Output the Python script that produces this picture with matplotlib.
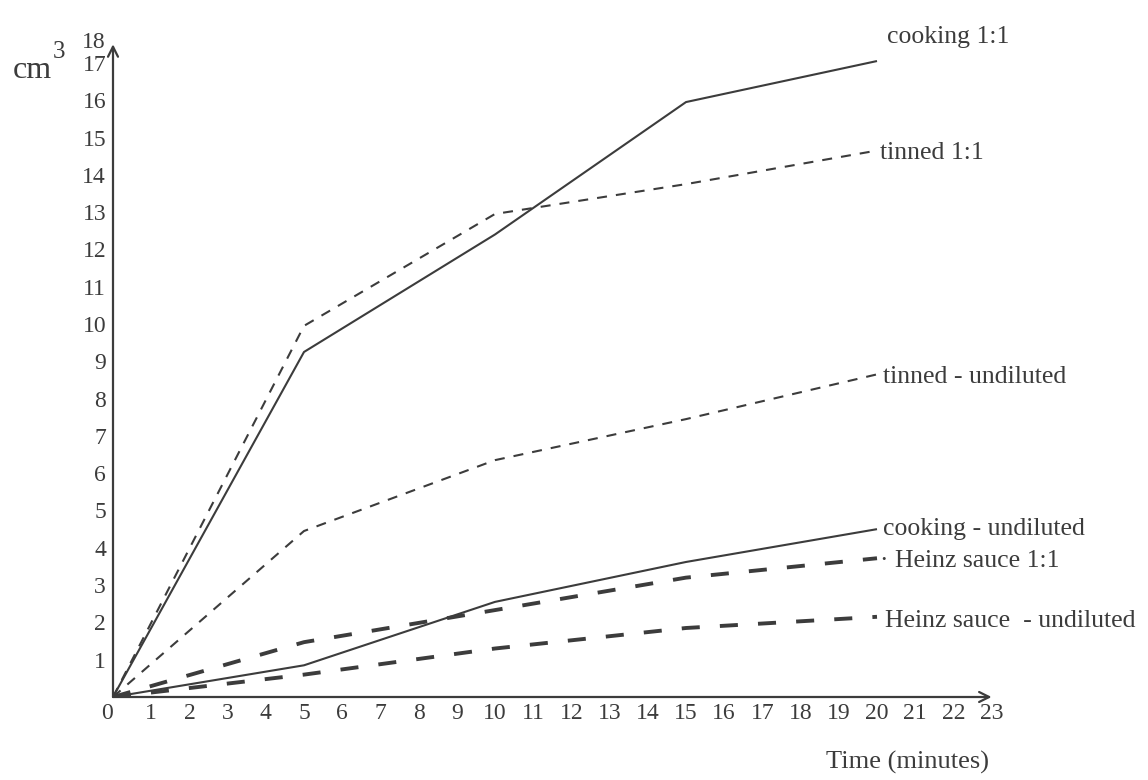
import matplotlib
matplotlib.use('Agg')
import matplotlib.pyplot as plt

# Время (мин) и объём (см3) для каждой пробы
minutes = [0, 5, 10, 15, 20]

cooking_1to1 = [0, 9.25, 12.4, 15.95, 17.05]
tinned_1to1 = [0, 9.95, 12.95, 13.75, 14.65]
tinned_undiluted = [0, 4.45, 6.35, 7.45, 8.65]
cooking_undiluted = [0, 0.85, 2.55, 3.62, 4.5]
heinz_1to1 = [0, 1.47, 2.33, 3.2, 3.72]
heinz_undiluted = [0, 0.6, 1.3, 1.85, 2.15]

series_names = ['cooking 1:1', 'tinned 1:1', 'tinned - undiluted',
                'cooking - undiluted', '\u00b7 Heinz sauce 1:1', 'Heinz sauce  - undiluted']
x_ticks = list(range(0, 24))
y_ticks = list(range(1, 18))

plt.rcParams['font.family'] = ['Liberation Serif', 'DejaVu Serif']
plt.rcParams['lines.scale_dashes'] = False

ink = '#3c3c3c'

fig = plt.figure(figsize=(11.48, 7.8), dpi=100)
ax = fig.add_axes([113 / 1148, 83 / 780, 24 * 38.2 / 1148, 18.5 * 37.3 / 780])
ax.set_xlim(0, 24)
ax.set_ylim(0, 18.5)

# Стили линий: сплошная, мелкий пунктир, крупный пунктир
solid = dict(color=ink, lw=1.5, ls='-')
short_dash = dict(color=ink, lw=1.5, ls=(0, (7.2, 6.5)))
long_dash = dict(color=ink, lw=2.8, ls=(0, (13, 14.5)))

series = [cooking_1to1, tinned_1to1, tinned_undiluted,
          cooking_undiluted, heinz_1to1, heinz_undiluted]
styles = [solid, short_dash, short_dash, solid, long_dash, long_dash]
# смещения подписей от конца линии (в пунктах)
label_offsets = [(7, 17), (2, -2), (4, -2), (4, 0), (2, -2), (6, -3)]

for values, style, name, off in zip(series, styles, series_names, label_offsets):
    ax.plot(minutes, values, solid_capstyle='butt', dash_capstyle='butt', **style)
    ax.annotate(name, xy=(minutes[-1], values[-1]), xytext=off,
                textcoords='offset points', ha='left', va='center',
                fontsize=18.5, color=ink)

# Оси со стрелками вместо рамки
for side in ['top', 'right', 'left', 'bottom']:
    ax.spines[side].set_visible(False)
ax.annotate('', xy=(23.0, 0), xytext=(0, 0),
            arrowprops=dict(arrowstyle='->', lw=1.6, color=ink, shrinkA=0, shrinkB=0,
                            mutation_scale=18))
ax.annotate('', xy=(0, 17.5), xytext=(0, 0),
            arrowprops=dict(arrowstyle='->', lw=1.6, color=ink, shrinkA=0, shrinkB=0,
                            mutation_scale=18))

ax.set_xticks(x_ticks)
ax.set_xticklabels([str(t) for t in x_ticks])
ax.set_yticks(y_ticks)
ax.set_yticklabels([str(t) for t in y_ticks])
ax.tick_params(axis='both', length=0, labelsize=17, labelcolor=ink)
ax.tick_params(axis='x', pad=4)
ax.tick_params(axis='y', pad=5)
ax.get_xticklabels()[0].set_ha('right')
ax.text(-0.2, 17.55, '18', ha='right', va='center', fontsize=17, color=ink)

fig.text(13 / 1148, 1 - 78 / 780, 'cm', fontsize=23, color=ink,
         ha='left', va='baseline')
fig.text(53 / 1148, 1 - 58 / 780, '3', fontsize=18, color=ink,
         ha='left', va='baseline')
fig.text(907 / 1148, 1 - 762 / 780, 'Time (minutes)', fontsize=19, color=ink,
         ha='center', va='center')

fig.savefig('out.png', dpi=100, facecolor='white')
